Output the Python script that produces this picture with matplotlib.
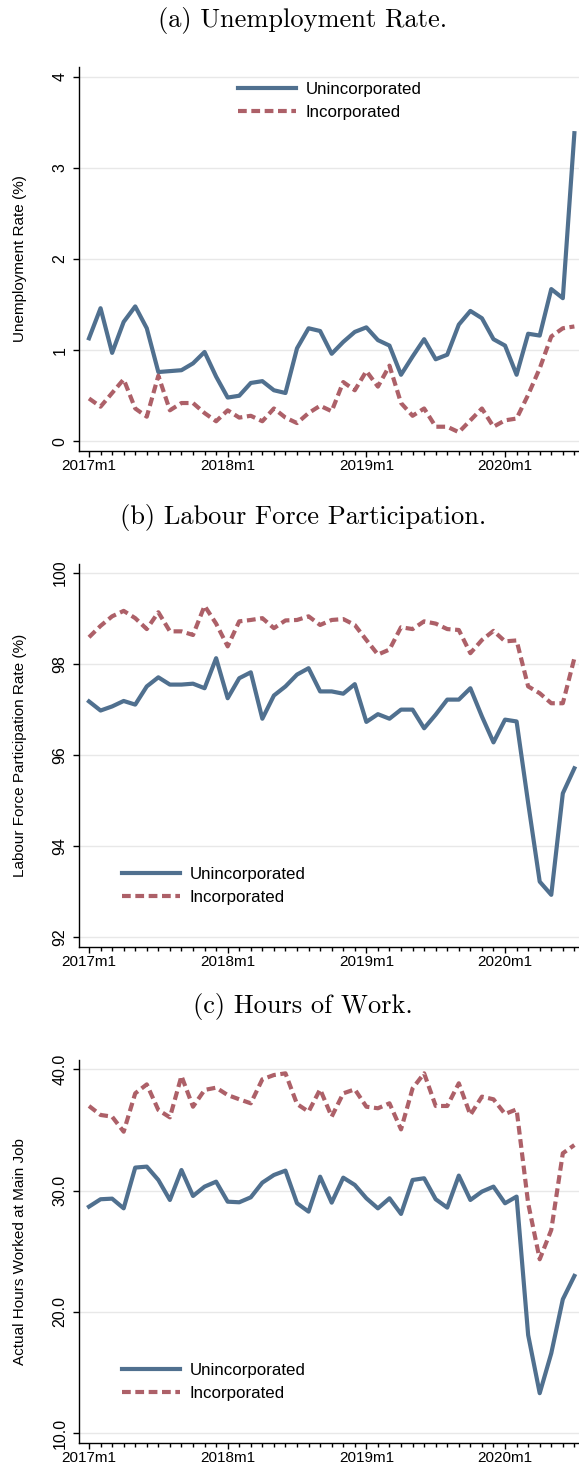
import numpy as np
import matplotlib
matplotlib.use("Agg")
import matplotlib.pyplot as plt
from matplotlib.ticker import MultipleLocator, FormatStrFormatter

# monthly series, 2017m1 .. 2020m7
months = np.arange(43)
year_ticks = [0, 12, 24, 36]
year_labels = ["2017m1", "2018m1", "2019m1", "2020m1"]

unemp_uninc = [1.13, 1.46, 0.97, 1.31, 1.48, 1.24, 0.76, 0.77, 0.78, 0.855,
               0.98, 0.71, 0.48, 0.50, 0.64, 0.66, 0.56, 0.53, 1.02, 1.24,
               1.21, 0.96, 1.09, 1.20, 1.25, 1.11, 1.05, 0.73, 0.93, 1.12,
               0.90, 0.95, 1.28, 1.43, 1.35, 1.12, 1.05, 0.73, 1.18, 1.16,
               1.67, 1.57, 3.38]
unemp_inc = [0.47, 0.38, 0.53, 0.68, 0.36, 0.27, 0.72, 0.34, 0.42, 0.42,
             0.31, 0.22, 0.34, 0.26, 0.28, 0.22, 0.36, 0.26, 0.20, 0.31,
             0.39, 0.33, 0.65, 0.56, 0.77, 0.60, 0.83, 0.42, 0.28, 0.36,
             0.16, 0.16, 0.10, 0.23, 0.36, 0.16, 0.23, 0.25, 0.51, 0.80,
             1.15, 1.24, 1.26]

lfp_uninc = [97.18, 96.98, 97.07, 97.19, 97.11, 97.51, 97.71, 97.55, 97.55, 97.57,
             97.47, 98.13, 97.25, 97.69, 97.82, 96.80, 97.31, 97.51, 97.77, 97.91,
             97.40, 97.40, 97.35, 97.56, 96.73, 96.90, 96.80, 97.00, 97.00, 96.59,
             96.89, 97.22, 97.22, 97.47, 96.85, 96.28, 96.78, 96.74, 94.95, 93.22,
             92.93, 95.16, 95.71]
lfp_inc = [98.59, 98.84, 99.05, 99.17, 99.01, 98.77, 99.14, 98.72, 98.72, 98.64,
           99.28, 98.89, 98.39, 98.94, 98.97, 99.01, 98.79, 98.96, 98.97, 99.05,
           98.86, 98.97, 98.99, 98.86, 98.53, 98.21, 98.32, 98.81, 98.77, 98.94,
           98.89, 98.77, 98.75, 98.24, 98.53, 98.73, 98.50, 98.52, 97.51, 97.36,
           97.14, 97.14, 98.13]

hours_uninc = [28.68, 29.29, 29.34, 28.54, 31.90, 31.98, 30.88, 29.23, 31.70, 29.56,
               30.33, 30.74, 29.09, 29.04, 29.45, 30.66, 31.29, 31.65, 28.96, 28.27,
               31.15, 29.01, 31.07, 30.47, 29.37, 28.54, 29.37, 28.08, 30.88, 31.02,
               29.29, 28.60, 31.24, 29.23, 29.92, 30.33, 28.96, 29.51, 18.10, 13.30,
               16.59, 21.04, 22.97]
hours_inc = [36.98, 36.24, 36.10, 34.86, 38.02, 38.76, 36.65, 36.04, 39.45, 36.92,
             38.30, 38.49, 37.88, 37.53, 37.20, 39.18, 39.53, 39.67, 37.14, 36.51,
             38.35, 36.10, 38.02, 38.35, 36.92, 36.79, 37.20, 35.05, 38.43, 39.67,
             36.98, 36.98, 38.85, 36.24, 37.75, 37.53, 36.32, 36.70, 28.96, 24.34,
             26.76, 33.08, 33.76]

BLUE = "#50708f"
RED = "#ad6068"

W, H = 579, 1467
fig = plt.figure(figsize=(W / 100, H / 100), dpi=100)

panels = [
    dict(title="(a) Unemployment Rate.", ty=20, top=67, bot=450.7,
         uninc=unemp_uninc, inc=unemp_inc, ylabel="Unemployment Rate (%)",
         ylim=(-0.103, 4.106), yticks=[0, 1, 2, 3, 4], fmt="%d",
         leg=(0.318, 0.962)),
    dict(title="(b) Labour Force Participation.", ty=517, top=564, bot=946.7,
         uninc=lfp_uninc, inc=lfp_inc, ylabel="Labour Force Participation Rate (%)",
         ylim=(91.79, 100.2), yticks=[92, 94, 96, 98, 100], fmt="%d",
         leg=(0.086, 0.2085)),
    dict(title="(c) Hours of Work.", ty=1007, top=1060, bot=1442.7,
         uninc=hours_uninc, inc=hours_inc, ylabel="Actual Hours Worked at Main Job",
         ylim=(9.22, 40.77), yticks=[10, 20, 30, 40], fmt="%.1f",
         leg=(0.086, 0.2085)),
]

left = 79 / W
for p in panels:
    ax = fig.add_axes([left, 1 - p["bot"] / H, 1 - left, (p["bot"] - p["top"]) / H])
    ax.plot(months, p["uninc"], color=BLUE, lw=3.0, label="Unincorporated")
    ax.plot(months, p["inc"], color=RED, lw=3.0, ls=(0, (2.1, 1.1)),
            label="Incorporated")

    ax.set_xlim(-0.865, 42.4)
    ax.set_ylim(*p["ylim"])
    ax.set_yticks(p["yticks"])
    ax.yaxis.set_major_formatter(FormatStrFormatter(p["fmt"]))
    ax.set_xticks(year_ticks)
    ax.set_xticklabels(year_labels)
    ax.xaxis.set_minor_locator(MultipleLocator(1))
    ax.grid(axis="y", color="#e8e8e8", lw=1.0)
    ax.set_axisbelow(True)

    for s in ["top", "right"]:
        ax.spines[s].set_visible(False)
    for s in ["left", "bottom"]:
        ax.spines[s].set_linewidth(1.0)

    ax.tick_params(axis="x", which="major", length=4.5, width=1, labelsize=11, pad=1.5)
    ax.tick_params(axis="x", which="minor", length=3, width=1)
    ax.tick_params(axis="y", which="major", length=4.3, width=1, labelsize=11.5, pad=4)
    for lab in ax.get_yticklabels():
        lab.set_rotation(90)
        lab.set_va("center")

    ax.set_ylabel(p["ylabel"], fontsize=11)
    ax.yaxis.set_label_coords(-0.104, 0.5)

    ax.legend(loc="upper left", bbox_to_anchor=p["leg"], frameon=False,
              fontsize=12.2, handlelength=3.4, handletextpad=0.6,
              labelspacing=0.5, borderaxespad=0, borderpad=0)

    fig.text(303 / W, 1 - p["ty"] / H, p["title"], ha="center", va="center",
             fontsize=19, family="cmr10")

for t in fig.findobj(matplotlib.text.Text):
    if t.get_fontfamily() != ["cmr10"]:
        t.set_fontfamily(["Liberation Sans", "DejaVu Sans"])

fig.savefig("out.png", dpi=100)
